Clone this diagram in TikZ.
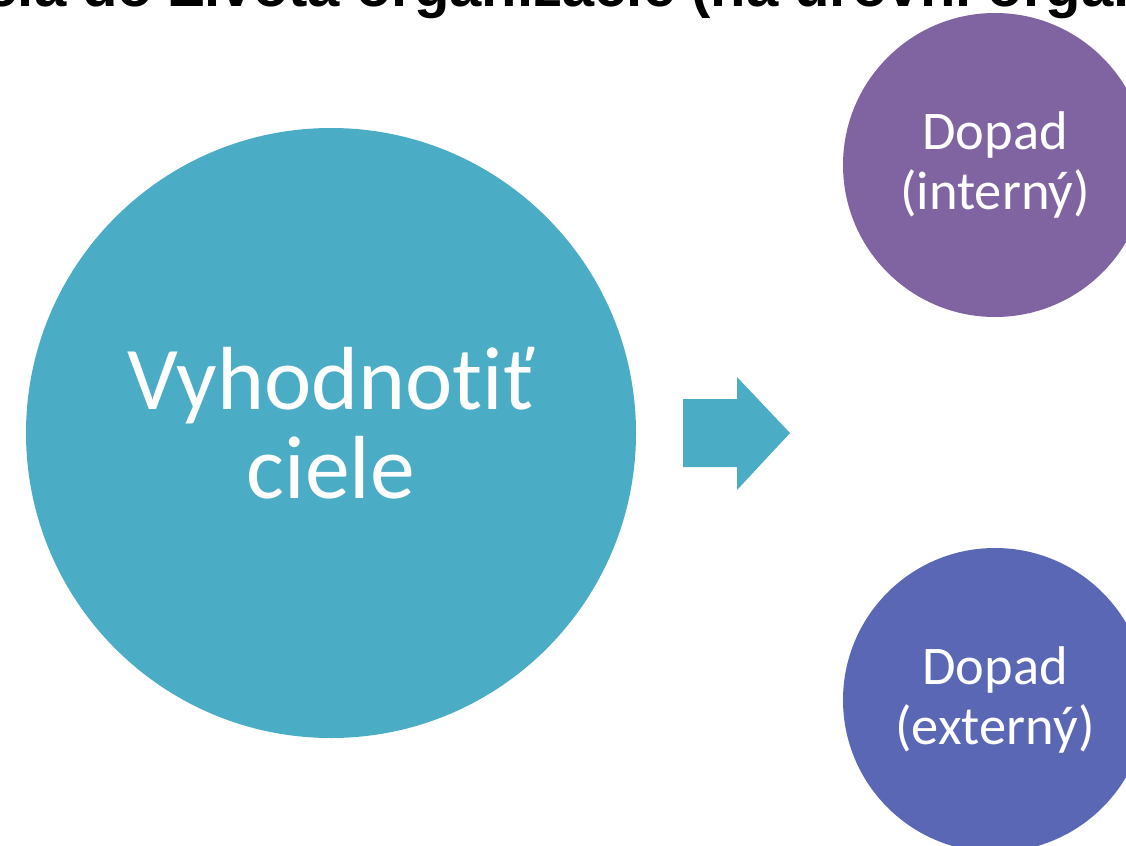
\documentclass[tikz,border=0pt]{standalone}
\usepackage{fontspec}
\setmainfont{Carlito}[Ligatures=NoCommon]
\newfontfamily\titlefont{Liberation Sans}
\usetikzlibrary{positioning}

\definecolor{aqua}{HTML}{4BACC6}
\definecolor{violet}{HTML}{8064A2}
\definecolor{indigo}{HTML}{5A67B4}

\begin{document}
\begin{tikzpicture}[bubble/.style={circle, inner sep=0pt, text=white, align=center}]
  \useasboundingbox (0,0) rectangle (11.26,-8.46);
  \clip (0,0) rectangle (11.26,-8.46);

  % title, cut by the frame
  \node[anchor=base west, inner sep=0pt, font=\titlefont\bfseries\fontsize{16.5}{20}\selectfont] (title) at (-0.15,-0.07) {cia do Života organizácie (na úrovni organizácie)};

  \node[bubble, fill=aqua, minimum size=6.1cm] (goal) at (3.31,-4.33) {};
  \node[text=white, align=center, font=\fontsize{25.5}{25.4}\selectfont] (goaltext) at ([yshift=1mm]goal.center) {Vyhodnotiť\\ciele};
  \node[bubble, fill=violet, minimum size=3.04cm, font=\fontsize{15.5}{17}\selectfont] (intern) at (9.95,-1.65) {Dopad\\(interný)};
  \node[bubble, fill=indigo, minimum size=3.04cm, font=\fontsize{15.5}{17}\selectfont] (extern) at (9.95,-7.00) {Dopad\\(externý)};

  % arrow
  \fill[aqua] (6.83,-3.99) -- (7.37,-3.99) -- (7.37,-3.77) -- (7.90,-4.33)
    -- (7.37,-4.90) -- (7.37,-4.67) -- (6.83,-4.67) -- cycle;
\end{tikzpicture}
\end{document}
